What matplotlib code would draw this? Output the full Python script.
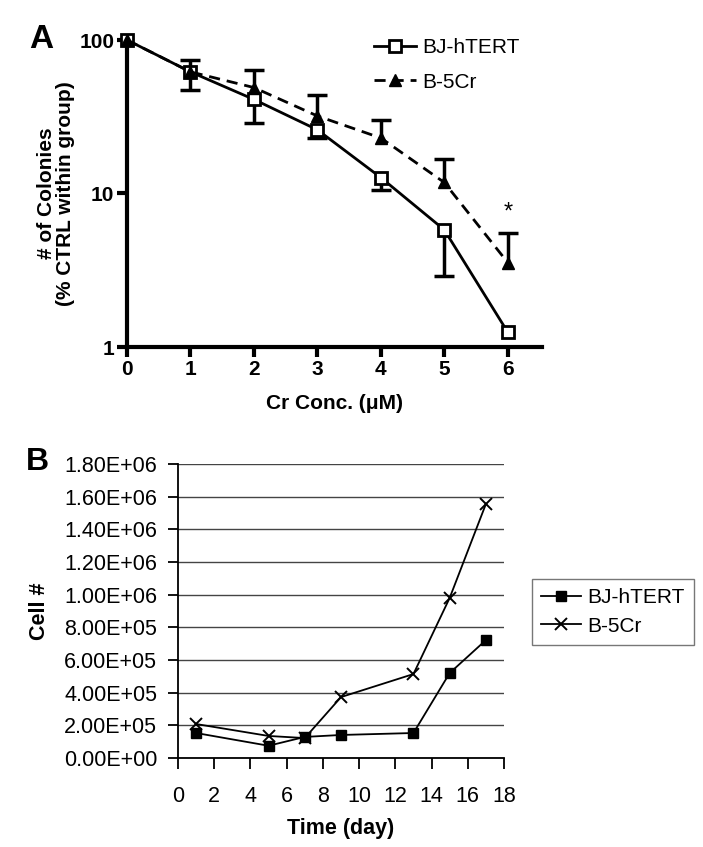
import numpy as np
import matplotlib
matplotlib.use('Agg')
import matplotlib.pyplot as plt

plt.rcParams['font.family'] = ['Liberation Sans', 'DejaVu Sans']

# --- panel A: colony formation --- #
conc = [0, 1, 2, 3, 4, 5, 6]
bj_col = [100, 62, 41, 26, 12.7, 5.8, 1.25]
bj_err_lo = [0, 15, 12, 3, 2.1, 2.9, 0]
b5_col = [100, 62, 49, 32, 23, 11.8, 3.55]
b5_err_hi = [0, 12, 15, 12, 7, 4.9, 2.0]

# --- panel B: growth curve --- #
days = [1, 5, 7, 9, 13, 15, 17]
bj_cells = [1.53e5, 7.5e4, 1.29e5, 1.41e5, 1.53e5, 5.2e5, 7.22e5]
b5_cells = [2.08e5, 1.35e5, 1.22e5, 3.73e5, 5.14e5, 9.8e5, 1.555e6]
cell_ticks = [0, 2e5, 4e5, 6e5, 8e5, 1e6, 1.2e6, 1.4e6, 1.6e6, 1.8e6]

fig = plt.figure(figsize=(7.03, 8.47), dpi=100)

# ---- A ----
ax = fig.add_axes([127/703, 1-347/847, 415/703, 307/847])
ax.set_yscale('log')

# error bars only where there is one (one-sided, as in the original)
ebj = [i for i, e in enumerate(bj_err_lo) if e > 0]
eb5 = [i for i, e in enumerate(b5_err_hi) if e > 0]
e0 = ax.errorbar([conc[i] for i in ebj], [bj_col[i] for i in ebj],
                 yerr=[[bj_err_lo[i] for i in ebj], [0]*len(ebj)], fmt='none',
                 ecolor='k', elinewidth=2.5, capsize=7, capthick=2.5, zorder=2)
e1 = ax.errorbar([conc[i] for i in eb5], [b5_col[i] for i in eb5],
                 yerr=[[0]*len(eb5), [b5_err_hi[i] for i in eb5]], fmt='none',
                 ecolor='k', elinewidth=2.5, capsize=7, capthick=2.5, zorder=2)
e0[1][1].set_visible(False)   # no cap on the zero side
e1[1][0].set_visible(False)
p0, = ax.plot(conc, bj_col, 'ks-', mfc='white', mec='k', mew=2, ms=9, lw=2,
              clip_on=False, zorder=3)
p1, = ax.plot(conc, b5_col, 'k^--', mfc='k', mec='k', ms=9, lw=2, dashes=(4, 2.5),
              clip_on=False, zorder=3)
ax.set_xlim(0, 6.54)
ax.set_ylim(1, 100)
ax.set_yticks([1, 10, 100])
ax.set_yticklabels(['1', '10', '100'])
ax.minorticks_off()
ax.set_xticks(conc)
for s in ['top', 'right']:
    ax.spines[s].set_visible(False)
for s in ['left', 'bottom']:
    ax.spines[s].set_linewidth(3)
ax.tick_params(width=3, length=7, labelsize=15, pad=2)
for label in (ax.get_xticklabels() + ax.get_yticklabels()):
    label.set_fontweight('bold')
ax.set_xlabel('Cr Conc. (\u03bcM)', fontsize=15, fontweight='bold', labelpad=11)
ax.set_ylabel('# of Colonies\n(% CTRL within group)', fontsize=15, fontweight='bold',
              labelpad=3, linespacing=1.0)
ax.text(6, 7.5, '*', ha='center', va='center', fontsize=17)
leg = ax.legend((p0, p1), ('BJ-hTERT', 'B-5Cr'), loc='upper left', frameon=False,
                bbox_to_anchor=(374/703, 1-38/847), bbox_transform=fig.transFigure,
                fontsize=15, handlelength=2.0, handletextpad=0.3, labelspacing=0.75,
                borderpad=0, borderaxespad=0)
fig.text(41/703, 1-40/847, 'A', fontsize=24, fontweight='bold', ha='center', va='center')

# ---- B ----
bx = fig.add_axes([178/703, 1-758/847, 326/703, 294/847])
q0, = bx.plot(days, bj_cells, 'k-', marker='s', ms=7, lw=1.3, clip_on=False, zorder=3)
q1, = bx.plot(days, b5_cells, 'k-', marker='x', ms=9, mew=1.4, lw=1.3, clip_on=False, zorder=3)
bx.set_xlim(0, 18)
bx.set_ylim(0, 1.8e6)
bx.set_xticks(range(0, 19, 2))
bx.set_yticks(cell_ticks)
bx.set_yticklabels(['%.2fE+%02d' % (v / 10**np.floor(np.log10(v)), np.floor(np.log10(v)))
                    if v > 0 else '0.00E+00' for v in cell_ticks])
bx.yaxis.grid(True, color='#444444', lw=1)
bx.set_axisbelow(True)
for s in ['top', 'right']:
    bx.spines[s].set_visible(False)
for s in ['left', 'bottom']:
    bx.spines[s].set_linewidth(1.3)
bx.tick_params(axis='y', width=1.3, length=7, labelsize=15.5, pad=8)
bx.tick_params(axis='x', width=1.3, length=8, labelsize=15.5, pad=12)
bx.set_xlabel('Time (day)', fontsize=15.5, fontweight='bold', labelpad=8)
bx.set_ylabel('Cell #', fontsize=15.5, fontweight='bold', labelpad=10)
lg = bx.legend((q0, q1), ('BJ-hTERT', 'B-5Cr'), loc='upper left',
               bbox_to_anchor=(532/703, 1-579/847), bbox_transform=fig.transFigure,
               fontsize=15, handlelength=1.9, handletextpad=0.3, labelspacing=0.45,
               borderpad=0.45, borderaxespad=0, fancybox=False, edgecolor='#555555')
lg.get_frame().set_linewidth(1)
fig.text(37/703, 1-462/847, 'B', fontsize=23, fontweight='bold', ha='center', va='center')

plt.savefig('out.png', dpi=100)
